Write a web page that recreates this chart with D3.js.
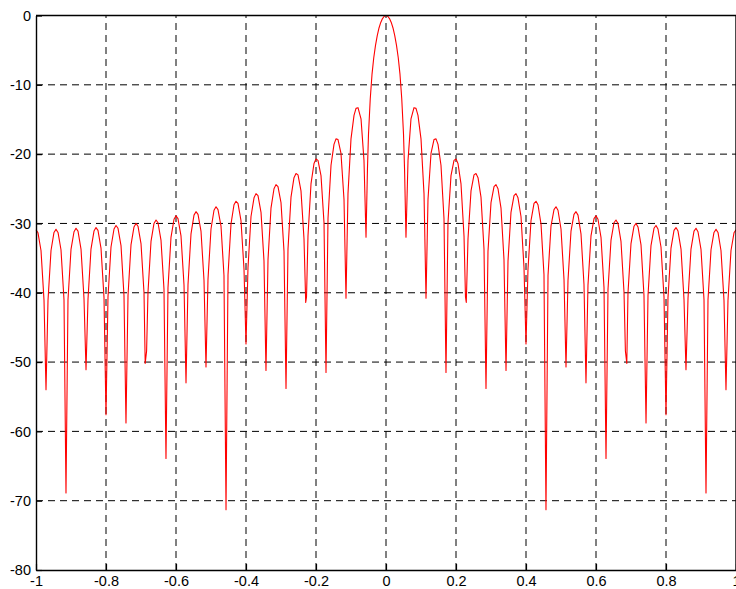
<!DOCTYPE html>
<html>
<head>
<meta charset="utf-8">
<script src="https://cdn.jsdelivr.net/npm/d3@7"></script>
<style>
  html, body { margin: 0; padding: 0; background: #fff; }
  svg { display: block; }
  .tick text { font-family: "Liberation Sans", Arial, Helvetica, sans-serif; font-size: 14.5px; fill: #000; }
</style>
</head>
<body>
<svg id="chart" width="736" height="589"></svg>
<script>
// Array factor of a uniform linear array, in dB, versus u = sin(theta).
// Each entry is [u, dB].

const mainLobe = [
  [-0.053, -22.2], [-0.050, -17.1], [-0.045, -12.0], [-0.040, -8.5], [-0.035, -6.1],
  [-0.030, -4.3], [-0.025, -2.9], [-0.020, -1.8], [-0.015, -1.0], [-0.010, -0.44],
  [-0.005, -0.11], [0.000, 0.0], [0.005, -0.11], [0.010, -0.44], [0.015, -1.0],
  [0.020, -1.8], [0.025, -2.9], [0.030, -4.3], [0.035, -6.1], [0.040, -8.5],
  [0.045, -12.0], [0.050, -17.1], [0.053, -22.2]
];

const leftSidelobes = [
  [-1.0000, -30.9], [-0.9943, -31.35], [-0.9857, -33.9], [-0.9771, -41.1], [-0.9714, -54.0],
  [-0.9657, -41.1], [-0.9571, -33.9], [-0.9486, -31.3], [-0.9429, -30.85], [-0.9371, -31.3], [-0.9286, -33.8], [-0.9200, -41.0], [-0.9143, -68.9],
  [-0.9086, -41.0], [-0.9000, -33.75], [-0.8914, -31.2], [-0.8857, -30.7], [-0.8800, -31.1], [-0.8714, -33.7], [-0.8629, -40.8], [-0.8571, -51.1],
  [-0.8514, -40.9], [-0.8429, -33.7], [-0.8343, -31.1], [-0.8286, -30.6], [-0.8229, -31.0], [-0.8143, -33.55], [-0.8057, -40.7], [-0.8000, -57.6],
  [-0.7943, -40.6], [-0.7857, -33.4], [-0.7771, -30.8], [-0.7714, -30.3], [-0.7657, -30.7], [-0.7571, -33.2], [-0.7486, -40.4], [-0.7429, -58.8],
  [-0.7371, -40.4], [-0.7286, -33.1], [-0.7200, -30.5], [-0.7143, -30.0], [-0.7086, -30.4], [-0.7000, -32.9], [-0.6914, -40.0], [-0.6880, -50.2], [-0.6840, -48.4],
  [-0.6800, -39.9], [-0.6714, -32.6], [-0.6629, -30.0], [-0.6571, -29.5], [-0.6514, -29.9], [-0.6429, -32.4], [-0.6343, -39.5], [-0.6286, -63.9],
  [-0.6229, -39.3], [-0.6143, -32.0], [-0.6057, -29.4], [-0.6000, -28.9], [-0.5943, -29.3], [-0.5857, -31.8], [-0.5771, -38.9], [-0.5714, -53.0],
  [-0.5657, -38.8], [-0.5571, -31.5], [-0.5486, -28.8], [-0.5429, -28.3], [-0.5371, -28.7], [-0.5286, -31.1], [-0.5200, -38.2], [-0.5143, -50.7],
  [-0.5086, -38.1], [-0.5000, -30.8], [-0.4914, -28.1], [-0.4857, -27.6], [-0.4800, -28.0], [-0.4714, -30.4], [-0.4629, -37.5], [-0.4571, -71.3],
  [-0.4514, -37.4], [-0.4429, -30.1], [-0.4343, -27.3], [-0.4286, -26.8], [-0.4229, -27.1], [-0.4143, -29.6], [-0.4057, -36.6], [-0.4000, -47.4],
  [-0.3943, -36.4], [-0.3857, -29.0], [-0.3771, -26.3], [-0.3714, -25.7], [-0.3657, -26.0], [-0.3571, -28.4], [-0.3486, -35.4], [-0.3429, -51.2],
  [-0.3371, -35.2], [-0.3286, -27.8], [-0.3200, -25.0], [-0.3143, -24.4], [-0.3086, -24.7], [-0.3000, -27.0], [-0.2914, -34.0], [-0.2857, -53.8],
  [-0.2800, -33.7], [-0.2714, -26.2], [-0.2629, -23.4], [-0.2571, -22.8], [-0.2514, -23.0], [-0.2429, -25.3], [-0.2343, -32.2], [-0.2294, -41.4], [-0.2271, -40.6],
  [-0.2229, -31.8], [-0.2143, -24.3], [-0.2057, -21.35], [-0.2000, -20.7], [-0.1943, -20.9], [-0.1857, -23.1], [-0.1771, -29.9], [-0.1714, -51.5],
  [-0.1657, -29.3], [-0.1571, -21.6], [-0.1486, -18.6], [-0.1429, -17.8], [-0.1371, -17.9], [-0.1286, -19.9], [-0.1200, -26.5], [-0.1143, -40.8],
  [-0.1086, -25.7], [-0.1000, -17.8], [-0.0914, -14.4], [-0.0857, -13.4], [-0.0800, -13.3], [-0.0714, -14.9], [-0.0629, -20.9], [-0.0571, -32.0]
];

const rightSidelobes = [
  [0.0571, -32.0], [0.0629, -20.9], [0.0714, -14.9], [0.0800, -13.3], [0.0857, -13.4], [0.0914, -14.4], [0.1000, -17.8], [0.1086, -25.7],
  [0.1143, -40.8], [0.1200, -26.5], [0.1286, -19.9], [0.1371, -17.9], [0.1429, -17.8], [0.1486, -18.6], [0.1571, -21.6], [0.1657, -29.3],
  [0.1714, -51.5], [0.1771, -29.9], [0.1857, -23.1], [0.1943, -20.9], [0.2000, -20.7], [0.2057, -21.35], [0.2143, -24.3], [0.2229, -31.8],
  [0.2271, -40.6], [0.2294, -41.4], [0.2343, -32.2], [0.2429, -25.3], [0.2514, -23.0], [0.2571, -22.8], [0.2629, -23.4], [0.2714, -26.2], [0.2800, -33.7],
  [0.2857, -53.8], [0.2914, -34.0], [0.3000, -27.0], [0.3086, -24.7], [0.3143, -24.4], [0.3200, -25.0], [0.3286, -27.8], [0.3371, -35.2],
  [0.3429, -51.2], [0.3486, -35.4], [0.3571, -28.4], [0.3657, -26.0], [0.3714, -25.7], [0.3771, -26.3], [0.3857, -29.0], [0.3943, -36.4],
  [0.4000, -47.4], [0.4057, -36.6], [0.4143, -29.6], [0.4229, -27.1], [0.4286, -26.8], [0.4343, -27.3], [0.4429, -30.1], [0.4514, -37.4],
  [0.4571, -71.3], [0.4629, -37.5], [0.4714, -30.4], [0.4800, -28.0], [0.4857, -27.6], [0.4914, -28.1], [0.5000, -30.8], [0.5086, -38.1],
  [0.5143, -50.7], [0.5200, -38.2], [0.5286, -31.1], [0.5371, -28.7], [0.5429, -28.3], [0.5486, -28.8], [0.5571, -31.5], [0.5657, -38.8],
  [0.5714, -53.0], [0.5771, -38.9], [0.5857, -31.8], [0.5943, -29.3], [0.6000, -28.9], [0.6057, -29.4], [0.6143, -32.0], [0.6229, -39.3],
  [0.6286, -63.9], [0.6343, -39.5], [0.6429, -32.4], [0.6514, -29.9], [0.6571, -29.5], [0.6629, -30.0], [0.6714, -32.6], [0.6800, -39.9],
  [0.6840, -48.4], [0.6880, -50.2], [0.6914, -40.0], [0.7000, -32.9], [0.7086, -30.4], [0.7143, -30.0], [0.7200, -30.5], [0.7286, -33.1], [0.7371, -40.4],
  [0.7429, -58.8], [0.7486, -40.4], [0.7571, -33.2], [0.7657, -30.7], [0.7714, -30.3], [0.7771, -30.8], [0.7857, -33.4], [0.7943, -40.6],
  [0.8000, -57.6], [0.8057, -40.7], [0.8143, -33.55], [0.8229, -31.0], [0.8286, -30.6], [0.8343, -31.1], [0.8429, -33.7], [0.8514, -40.9],
  [0.8571, -51.1], [0.8629, -40.8], [0.8714, -33.7], [0.8800, -31.1], [0.8857, -30.7], [0.8914, -31.2], [0.9000, -33.75], [0.9086, -41.0],
  [0.9143, -68.9], [0.9200, -41.0], [0.9286, -33.8], [0.9371, -31.3], [0.9429, -30.85], [0.9486, -31.3], [0.9571, -33.9], [0.9657, -41.1],
  [0.9714, -54.0], [0.9771, -41.1], [0.9857, -33.9], [0.9943, -31.35], [1.0000, -30.9]
];

const xTicks = [-1, -0.8, -0.6, -0.4, -0.2, 0, 0.2, 0.4, 0.6, 0.8, 1];
const xTickLabels = ["-1", "-0.8", "-0.6", "-0.4", "-0.2", "0", "0.2", "0.4", "0.6", "0.8", "1"];
const yTicks = [-80, -70, -60, -50, -40, -30, -20, -10, 0];
const yTickLabels = ["-80", "-70", "-60", "-50", "-40", "-30", "-20", "-10", "0"];

const pattern = leftSidelobes.concat(mainLobe, rightSidelobes);

const svg = d3.select("#chart");
const plot = { left: 36, right: 736, top: 15.5, bottom: 570 };

const x = d3.scaleLinear().domain([-1, 1]).range([plot.left, plot.right]);
const y = d3.scaleLinear().domain([-80, 0]).range([plot.bottom, plot.top]);

svg.append("rect").attr("width", 736).attr("height", 589).attr("fill", "#fff");

// dashed grid
const grid = svg.append("g").attr("stroke", "#000").attr("stroke-width", 1)
  .attr("stroke-dasharray", "7,5").attr("fill", "none");
grid.selectAll("line.v").data(xTicks.slice(1, -1)).join("line").attr("class", "v")
  .attr("x1", d => x(d)).attr("x2", d => x(d))
  .attr("y1", plot.bottom).attr("y2", plot.top);
grid.selectAll("line.h").data(yTicks.slice(1, -1)).join("line").attr("class", "h")
  .attr("x1", plot.left).attr("x2", plot.right)
  .attr("y1", d => y(d)).attr("y2", d => y(d));

// pattern curve
const line = d3.line().x(d => x(d[0])).y(d => y(d[1]));
svg.append("path").datum(pattern)
  .attr("d", line).attr("fill", "none")
  .attr("stroke", "#ff0000").attr("stroke-width", 1.1)
  .attr("stroke-linejoin", "round");

// axes with inward ticks
const xAxis = d3.axisBottom(x).tickValues(xTicks)
  .tickFormat((d, i) => xTickLabels[i]).tickSizeInner(-6).tickSizeOuter(0).tickPadding(6);
const yAxis = d3.axisLeft(y).tickValues(yTicks)
  .tickFormat((d, i) => yTickLabels[i]).tickSizeInner(-6).tickSizeOuter(0).tickPadding(5);

const gx = svg.append("g").attr("transform", `translate(0,${plot.bottom})`).call(xAxis);
const gy = svg.append("g").attr("transform", `translate(${plot.left},0)`).call(yAxis);
[gx, gy].forEach(g => {
  g.select(".domain").attr("stroke", "#000").attr("stroke-width", 1.4);
  g.selectAll(".tick line").attr("stroke", "#000").attr("stroke-width", 1.2);
  g.selectAll(".tick text").attr("font-family", null).attr("font-size", null);
});

// box: top and right edges
svg.append("path")
  .attr("d", `M${plot.left},${plot.top}H${plot.right}V${plot.bottom}`)
  .attr("fill", "none").attr("stroke", "#000").attr("stroke-width", 1.4);
</script>
</body>
</html>
